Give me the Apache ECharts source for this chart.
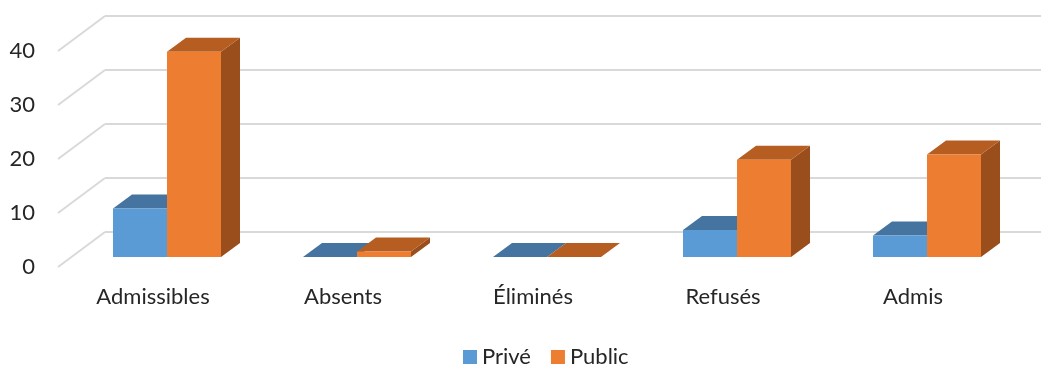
<!DOCTYPE html>
<html>
<head>
<meta charset="utf-8">
<script src="https://cdn.jsdelivr.net/npm/echarts@6/dist/echarts.min.js"></script>
<style>
  html, body { margin: 0; padding: 0; background: #fff; }
  #chart { width: 1041px; height: 365px; }
</style>
</head>
<body>
<div id="chart"></div>
<script>
// données
const categories = ['Admissibles', 'Absents', 'Éliminés', 'Refusés', 'Admis'];
const prive = [9, 0, 0, 5, 4];
const public_ = [38, 1, 0, 18, 19];
const yTicks = [0, 10, 20, 30, 40];

const FONT = 'Lato';
const TEXT = '#262626';
const GRID = '#d9d9d9';

// décalage de profondeur des barres (effet 3D)
const DEPTH = [19, -14];
// profondeur du mur gauche (mur du fond -> plan des étiquettes)
const WALL = [-47, 35];

const colors = {
  prive: { front: '#5B9BD5', top: '#44749F', side: '#3B6A94' },
  public: { front: '#ED7D31', top: '#B65E22', side: '#9A4E1C' }
};

function barRenderer(idx, c) {
  return function (params, api) {
    const cat = api.value(0);
    const v = api.value(1);
    const base = api.coord([cat, 0]);
    const top = api.coord([cat, v]);
    const band = api.size([1, 0])[0];
    const w = band * 54 / 190;
    const x0 = base[0] + (idx === 0 ? -w : 0);
    const [dx, dy] = DEPTH;
    const y1 = top[1], y0 = base[1];
    return {
      type: 'group',
      children: [
        {
          type: 'polygon',
          shape: { points: [[x0 + w, y1], [x0 + w + dx, y1 + dy], [x0 + w + dx, y0 + dy], [x0 + w, y0]] },
          style: { fill: c.side }
        },
        {
          type: 'polygon',
          shape: { points: [[x0, y1], [x0 + w, y1], [x0 + w + dx, y1 + dy], [x0 + dx, y1 + dy]] },
          style: { fill: c.top }
        },
        {
          type: 'rect',
          shape: { x: x0, y: y1, width: w, height: y0 - y1 },
          style: { fill: c.front }
        }
      ]
    };
  };
}

const chart = echarts.init(document.getElementById('chart'));

chart.setOption({
  animation: false,
  textStyle: { fontFamily: FONT },
  legend: {
    data: ['Privé', 'Public'],
    left: 458,
    top: 341,
    icon: 'rect',
    itemWidth: 14,
    itemHeight: 14,
    itemGap: 20,
    textStyle: { fontFamily: FONT, fontSize: 22, color: TEXT }
  },
  grid: [
    // mur du fond
    { left: 105, right: 0, top: 16, bottom: 133 },
    // plan avant des étiquettes de l'axe Y
    { left: 58, width: 10, top: 51, bottom: 98 },
    // plan avant des barres
    { left: 72, right: 19, top: 41, bottom: 108 }
  ],
  xAxis: [
    { gridIndex: 0, type: 'value', min: 0, max: 1, show: false },
    { gridIndex: 1, type: 'value', min: 0, max: 1, show: false },
    {
      gridIndex: 2, type: 'category', data: categories,
      axisLine: { show: false }, axisTick: { show: false },
      axisLabel: {
        margin: 29, padding: [0, 28, 0, 0],
        fontFamily: FONT, fontSize: 22, color: TEXT
      }
    }
  ],
  yAxis: [
    {
      gridIndex: 0, type: 'value', min: 0, max: 40, interval: 10,
      axisLine: { show: false }, axisTick: { show: false }, axisLabel: { show: false },
      splitLine: { lineStyle: { color: GRID, width: 2 } }
    },
    {
      gridIndex: 1, type: 'value', min: 0, max: 40, interval: 10,
      axisLine: { show: false }, axisTick: { show: false }, splitLine: { show: false },
      axisLabel: { margin: 23, fontFamily: FONT, fontSize: 22, color: TEXT }
    },
    { gridIndex: 2, type: 'value', min: 0, max: 40, show: false }
  ],
  series: [
    {
      name: 'wall',
      type: 'custom',
      xAxisIndex: 0, yAxisIndex: 0,
      silent: true,
      data: yTicks.map(v => [0, v]),
      renderItem: function (params, api) {
        const p = api.coord([0, api.value(1)]);
        return {
          type: 'line',
          shape: { x1: p[0], y1: p[1], x2: p[0] + WALL[0], y2: p[1] + WALL[1] },
          style: { stroke: GRID, lineWidth: 2 }
        };
      }
    },
    {
      name: 'Privé',
      type: 'custom',
      xAxisIndex: 2, yAxisIndex: 2,
      itemStyle: { color: colors.prive.front },
      data: prive.map((v, i) => [i, v]),
      renderItem: barRenderer(0, colors.prive)
    },
    {
      name: 'Public',
      type: 'custom',
      xAxisIndex: 2, yAxisIndex: 2,
      itemStyle: { color: colors.public.front },
      data: public_.map((v, i) => [i, v]),
      renderItem: barRenderer(1, colors.public)
    }
  ]
});
</script>
</body>
</html>
